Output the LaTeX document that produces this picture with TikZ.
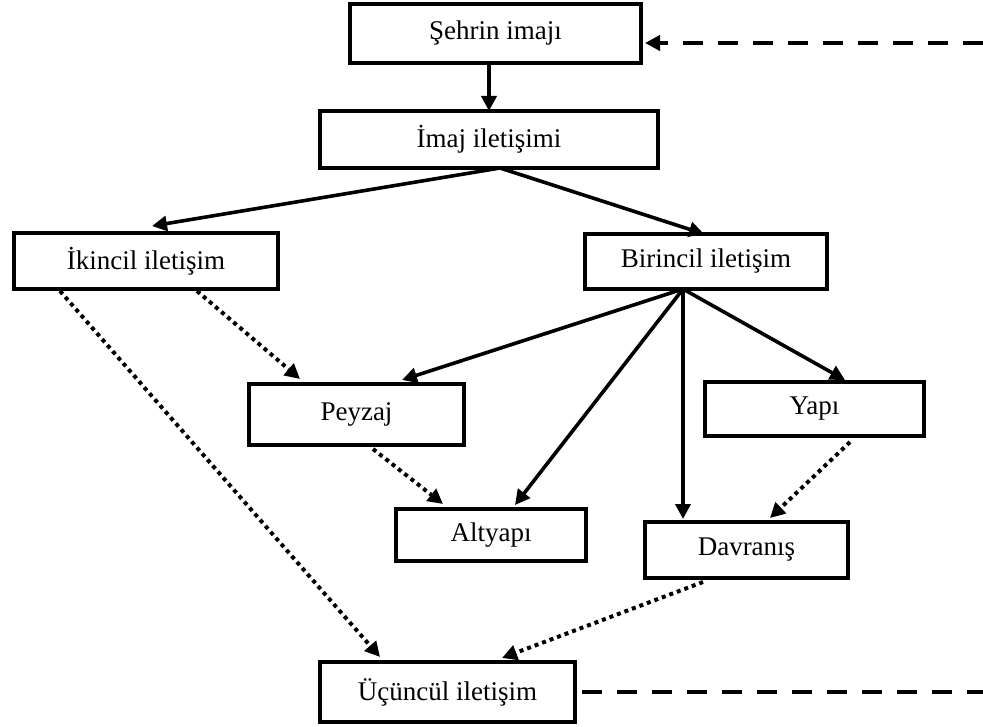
\documentclass[tikz,border=0pt]{standalone}
\usepackage{fontspec}
\setmainfont{Liberation Serif}
\usetikzlibrary{arrows.meta,calc}
\begin{document}
\begin{tikzpicture}[x=1pt,y=-1pt,
  box/.style n args={2}{draw,line width=4.5pt,minimum width=#1,minimum height=#2,inner sep=0pt,outer sep=0pt,font=\fontsize{27}{30}\selectfont},
  solidarrow/.style={line width=3.6pt,-{Triangle[length=15pt,width=15pt]}},
  dotarrow/.style={line width=4pt,dash pattern=on 4pt off 4pt,-{Triangle[length=15pt,width=15pt]}},
  dashline/.style={line width=4.5pt,dash pattern=on 20pt off 15pt}]
\useasboundingbox (0,0) rectangle (983,727);
\node[box={291pt}{59pt}] (sehir) at (495.5,33.5) {Şehrin imajı};
\node[box={338pt}{57pt}] (imaj) at (489,139.5) {İmaj iletişimi};
\node[box={264pt}{56pt}] (ikincil) at (146,261) {İkincil iletişim};
\node[box={242pt}{55pt}] (birincil) at (706,261.5) {Birincil iletişim};
\node[box={215pt}{61pt}] (peyzaj) at (356.5,414.5) {Peyzaj};
\node[box={219pt}{54pt}] (yapi) at (814.5,409) {Yapı};
\node[box={190pt}{52pt}] (altyapi) at (491,535) {Altyapı};
\node[box={203pt}{56pt}] (davranis) at (746.5,550) {Davranış};
\node[box={255pt}{60pt}] (ucuncul) at (447.5,692) {Üçüncül iletişim};
\coordinate (imajout) at ($(imaj.south)+(11,0)$);
\coordinate (biout) at ($(birincil.south)+(-23,0)$);
\coordinate (rtop) at (983,43);
\coordinate (rbot) at (983,692);
% solid arrows
\draw[solidarrow] (sehir.south -| imaj.north) -- (imaj.north);
\draw[solidarrow] (imajout) -- ($(ikincil.north)+(6,-7)$);
\draw[solidarrow] (imajout) -- ($(birincil.north)+(-2,0)$);
\draw[solidarrow] (biout) -- ($(peyzaj.north)+(45.5,-4)$);
\draw[solidarrow] (biout) -- ($(altyapi.north)+(24,-4)$);
\draw[solidarrow] (biout) -- ($(biout |- davranis.north)+(0,-3)$);
\draw[solidarrow] (biout) -- ($(yapi.north)+(30.5,-2)$);
% dotted arrows
\draw[dotarrow] ($(ikincil.south)+(-86,2)$) -- ($(ucuncul.north)+(-67.5,-5)$);
\draw[dotarrow] ($(ikincil.south)+(51,2)$) -- ($(peyzaj.north)+(-56.5,-5)$);
\draw[dotarrow] ($(peyzaj.south)+(16.5,4)$) -- ($(altyapi.north)+(-48,-5)$);
\draw[dotarrow] ($(yapi.south)+(35.5,6)$) -- ($(davranis.north)+(23.5,-4)$);
\draw[dotarrow] ($(davranis.south)+(-43.5,4)$) -- ($(ucuncul.north)+(54.5,-4)$);
% dashed feedback
\draw[dashline,-{Triangle[length=15pt,width=15pt]}] (rtop) -- ($(rtop -| sehir.east)+(4,0)$);
\draw[dashline] ($(ucuncul.east)+(7,0)$) -- (rbot);
\end{tikzpicture}
\end{document}
